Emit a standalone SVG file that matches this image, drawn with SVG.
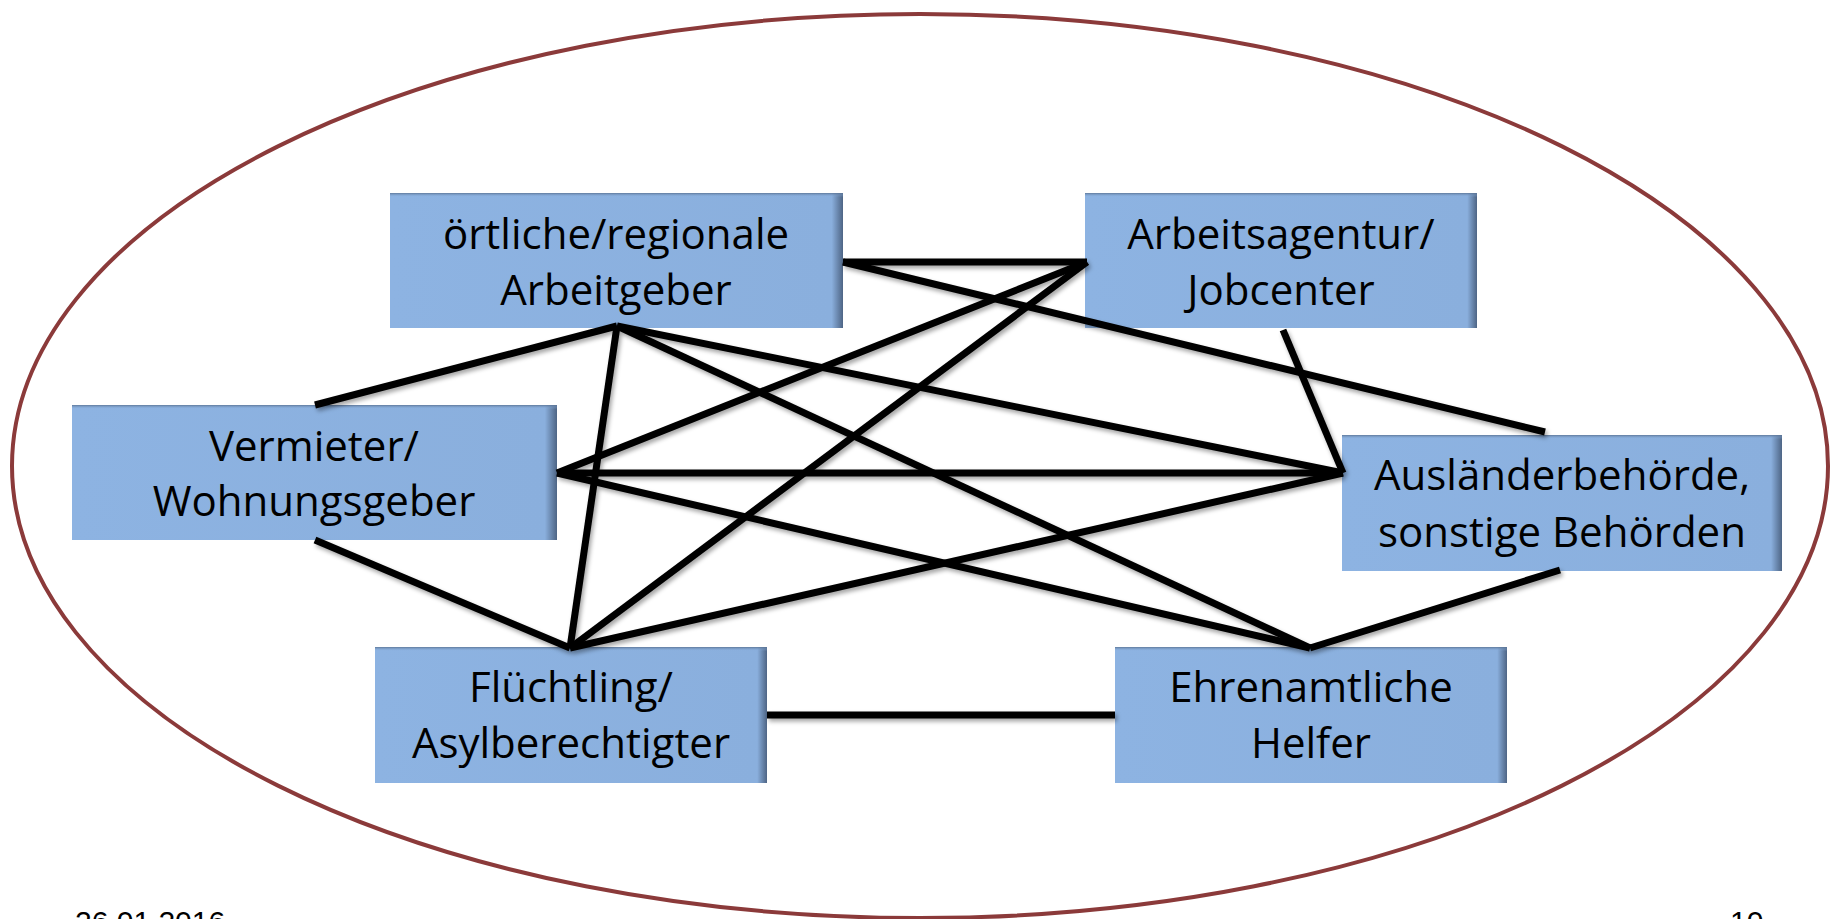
<svg xmlns="http://www.w3.org/2000/svg" width="1837" height="919" viewBox="0 0 1837 919">
  <defs>
    <linearGradient id="boxEdge" x1="0" y1="0" x2="1" y2="0">
      <stop offset="0" stop-color="#8DB3E2"/>
      <stop offset="0.975" stop-color="#8AAFDD"/>
      <stop offset="1" stop-color="#4E6585"/>
    </linearGradient>
    <linearGradient id="boxTop" x1="0" y1="0" x2="0" y2="1">
      <stop offset="0" stop-color="#5A7394" stop-opacity="0.9"/>
      <stop offset="1" stop-color="#8DB3E2" stop-opacity="0"/>
    </linearGradient>
    <filter id="lineShadow" x="-5%" y="-5%" width="110%" height="120%">
      <feDropShadow dx="2" dy="3" stdDeviation="2" flood-color="#000" flood-opacity="0.35"/>
    </filter>
  </defs>
  <style>
    .box { fill: url(#boxEdge); }
    .boxtop { fill: url(#boxTop); }
    .lbl { font-family: "Open Sans", "Noto Sans", sans-serif; font-size: 42px; fill: #000; text-anchor: middle; }
    .conn line { stroke: #000; stroke-width: 7; fill: none; }
    .foot { font-family: "Liberation Sans", Arial, sans-serif; font-size: 30px; fill: #000; }
  </style>
  <rect x="0" y="0" width="1837" height="919" fill="#fff"/>
  <ellipse cx="920" cy="466" rx="908" ry="452" fill="none" stroke="#8B3A3A" stroke-width="4"/>

  <g id="n-arbeitgeber">
    <rect class="box" x="390" y="193" width="453" height="135"/>
    <rect class="boxtop" x="390" y="193" width="453" height="4"/>
    <text class="lbl" x="616" y="249">örtliche/regionale</text>
    <text class="lbl" x="616" y="305">Arbeitgeber</text>
  </g>
  <g id="n-arbeitsagentur">
    <rect class="box" x="1085" y="193" width="392" height="135"/>
    <rect class="boxtop" x="1085" y="193" width="392" height="4"/>
    <text class="lbl" x="1281" y="249">Arbeitsagentur/</text>
    <text class="lbl" x="1281" y="305">Jobcenter</text>
  </g>
  <g id="n-vermieter">
    <rect class="box" x="72" y="405" width="485" height="135"/>
    <rect class="boxtop" x="72" y="405" width="485" height="4"/>
    <text class="lbl" x="314" y="461">Vermieter/</text>
    <text class="lbl" x="314" y="516">Wohnungsgeber</text>
  </g>
  <g id="n-auslaender">
    <rect class="box" x="1342" y="435" width="440" height="136"/>
    <rect class="boxtop" x="1342" y="435" width="440" height="4"/>
    <text class="lbl" x="1562" y="490">Ausländerbehörde,</text>
    <text class="lbl" x="1562" y="547">sonstige Behörden</text>
  </g>
  <g id="n-fluechtling">
    <rect class="box" x="375" y="647" width="392" height="136"/>
    <rect class="boxtop" x="375" y="647" width="392" height="4"/>
    <text class="lbl" x="571" y="702">Flüchtling/</text>
    <text class="lbl" x="571" y="758">Asylberechtigter</text>
  </g>
  <g id="n-ehrenamt">
    <rect class="box" x="1115" y="647" width="392" height="136"/>
    <rect class="boxtop" x="1115" y="647" width="392" height="4"/>
    <text class="lbl" x="1311" y="702">Ehrenamtliche</text>
    <text class="lbl" x="1311" y="758">Helfer</text>
  </g>

  <g id="connectors" class="conn" filter="url(#lineShadow)">
    <line x1="843" y1="262" x2="1087" y2="262"/>
    <line x1="843" y1="262" x2="1545" y2="432"/>
    <line x1="1087" y1="262" x2="557" y2="473"/>
    <line x1="1087" y1="262" x2="570" y2="648"/>
    <line x1="1283" y1="330" x2="1343" y2="473"/>
    <line x1="617" y1="326" x2="315" y2="405"/>
    <line x1="617" y1="326" x2="570" y2="648"/>
    <line x1="617" y1="326" x2="1343" y2="473"/>
    <line x1="617" y1="326" x2="1310" y2="648"/>
    <line x1="557" y1="473" x2="1343" y2="473"/>
    <line x1="557" y1="473" x2="1310" y2="648"/>
    <line x1="315" y1="540" x2="570" y2="648"/>
    <line x1="570" y1="648" x2="1343" y2="473"/>
    <line x1="1560" y1="570" x2="1310" y2="648"/>
    <line x1="767" y1="715" x2="1115" y2="715"/>
  </g>

  <text class="foot" x="75" y="932">26.01.2016</text>
  <text class="foot" x="1730" y="932">10</text>
</svg>
